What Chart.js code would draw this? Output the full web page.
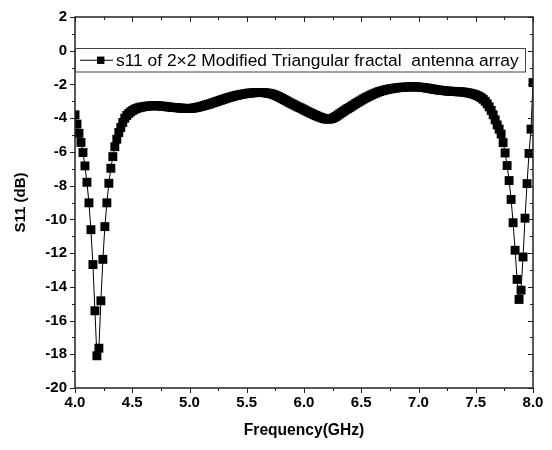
<!DOCTYPE html>
<html>
<head>
<meta charset="utf-8">
<script src="https://cdn.jsdelivr.net/npm/chart.js@4.4.0/dist/chart.umd.min.js"></script>
<style>
  html, body { margin: 0; padding: 0; background: #fff; }
</style>
</head>
<body>
<canvas id="chart" width="552" height="450"></canvas>
<script>
// S11 (dB), one value per sweep point, 4.0 -> 8.0 GHz
const s11 = [
  -3.80, -4.35, -4.90, -5.44, -6.04, -6.83, -7.80, -9.02, -10.61, -12.68,
  -15.42, -18.09, -17.64, -14.83, -12.37, -10.43, -9.02, -7.86, -6.97, -6.28,
  -5.69, -5.25, -4.85, -4.55, -4.25, -4.00, -3.84, -3.72, -3.62, -3.54,
  -3.47, -3.42, -3.38, -3.35, -3.33, -3.31, -3.29, -3.28, -3.27, -3.26,
  -3.26, -3.26, -3.27, -3.28, -3.29, -3.30, -3.32, -3.33, -3.35, -3.36,
  -3.37, -3.38, -3.39, -3.40, -3.41, -3.42, -3.42, -3.42, -3.42, -3.41,
  -3.39, -3.37, -3.34, -3.31, -3.28, -3.25, -3.21, -3.18, -3.14, -3.10,
  -3.06, -3.02, -2.98, -2.94, -2.90, -2.86, -2.82, -2.78, -2.75, -2.72,
  -2.68, -2.65, -2.63, -2.60, -2.58, -2.56, -2.54, -2.52, -2.51, -2.50,
  -2.49, -2.48, -2.48, -2.48, -2.48, -2.49, -2.50, -2.52, -2.54, -2.57,
  -2.61, -2.66, -2.71, -2.77, -2.83, -2.90, -2.96, -3.03, -3.09, -3.15,
  -3.21, -3.27, -3.33, -3.38, -3.44, -3.50, -3.56, -3.62, -3.68, -3.73,
  -3.79, -3.84, -3.89, -3.94, -3.98, -4.02, -4.05, -4.06, -4.05, -4.02,
  -3.97, -3.90, -3.82, -3.74, -3.66, -3.58, -3.50, -3.43, -3.36, -3.28,
  -3.21, -3.13, -3.06, -2.99, -2.92, -2.85, -2.79, -2.73, -2.67, -2.61,
  -2.56, -2.51, -2.46, -2.42, -2.38, -2.35, -2.32, -2.29, -2.27, -2.25,
  -2.23, -2.21, -2.20, -2.18, -2.17, -2.16, -2.16, -2.15, -2.15, -2.14,
  -2.14, -2.14, -2.15, -2.16, -2.17, -2.18, -2.20, -2.22, -2.24, -2.26,
  -2.28, -2.30, -2.32, -2.34, -2.35, -2.36, -2.38, -2.39, -2.40, -2.41,
  -2.41, -2.42, -2.43, -2.44, -2.44, -2.45, -2.47, -2.49, -2.51, -2.54,
  -2.57, -2.61, -2.66, -2.72, -2.79, -2.88, -3.00, -3.15, -3.33, -3.54,
  -3.80, -4.10, -4.40, -4.65, -4.94, -5.45, -6.06, -6.81, -7.70, -8.82,
  -10.20, -11.83, -13.56, -14.75, -14.20, -12.23, -9.93, -7.88, -6.09, -4.65,
  -1.89
];
const sweep = [4.0, 8.0];        // GHz, start / stop of the frequency sweep
const yRange = [-20, 2];
const legendText = "s11 of 2×2 Modified Triangular fractal  antenna array";

const FONT = "'Liberation Sans', Arial, Helvetica, sans-serif";

const df = (sweep[1] - sweep[0]) / (s11.length - 1);
const points = s11.map((v, i) => ({ x: sweep[0] + i * df, y: v }));

// frame + Origin style ticks (out on left/bottom, in on top/right)
const frameTicks = {
  id: "frameTicks",
  afterDraw(chart) {
    const { ctx, chartArea: a, scales } = chart;
    const x = scales.x, y = scales.y;
    ctx.save();
    ctx.strokeStyle = "#222";
    ctx.lineWidth = 1;
    const xs = x.ticks.map(t => t.value);
    const ys = y.ticks.map(t => t.value);
    const tick = (x1, y1, x2, y2) => {
      ctx.beginPath(); ctx.moveTo(x1, y1); ctx.lineTo(x2, y2); ctx.stroke();
    };
    xs.forEach((v, i) => {
      const px = Math.round(x.getPixelForValue(v)) + 0.5;
      tick(px, a.bottom, px, a.bottom + 5);
      tick(px, a.top, px, a.top + 5);
      if (i < xs.length - 1) {
        const pm = Math.round(x.getPixelForValue((v + xs[i + 1]) / 2)) + 0.5;
        tick(pm, a.bottom, pm, a.bottom + 3);
        tick(pm, a.top, pm, a.top + 3);
      }
    });
    ys.forEach((v, i) => {
      const py = Math.round(y.getPixelForValue(v)) + 0.5;
      tick(a.left, py, a.left - 5, py);
      tick(a.right, py, a.right - 5, py);
      if (i < ys.length - 1) {
        const pm = Math.round(y.getPixelForValue((v + ys[i + 1]) / 2)) + 0.5;
        tick(a.left, pm, a.left - 3, pm);
        tick(a.right, pm, a.right - 3, pm);
      }
    });
    ctx.lineWidth = 1.5;
    ctx.strokeRect(a.left, a.top, a.right - a.left, a.bottom - a.top);

    // legend box
    const bx = a.left, by = 48, bw = 450, bh = 23.5;
    ctx.fillStyle = "#fff";
    ctx.fillRect(bx, by, bw, bh);
    ctx.lineWidth = 1;
    ctx.strokeStyle = "#444";
    ctx.strokeRect(bx + 0.5, by + 0.5, bw, bh);
    const ly = by + bh / 2 + 0.5;
    ctx.strokeStyle = "#000";
    tick(bx + 5, ly, bx + 38, ly);
    ctx.fillStyle = "#000";
    ctx.fillRect(bx + 22, ly - 3.7, 7.4, 7.4);
    ctx.font = "17.4px " + FONT;
    ctx.textBaseline = "middle";
    ctx.textAlign = "left";
    ctx.fillText(legendText, bx + 41, ly + 0.5);
    ctx.restore();
  }
};

new Chart(document.getElementById("chart"), {
  type: "line",
  data: {
    datasets: [{
      label: legendText,
      data: points,
      borderColor: "#000",
      borderWidth: 1,
      pointStyle: "rect",
      pointRadius: 6.3,
      pointBorderWidth: 0,
      pointBackgroundColor: "#000",
      tension: 0,
    }],
  },
  options: {
    responsive: false,
    animation: false,
    layout: { padding: { top: 16, right: 19, left: 0, bottom: 0 } },
    plugins: { legend: { display: false }, tooltip: { enabled: false } },
    scales: {
      x: {
        type: "linear",
        min: sweep[0],
        max: sweep[1],
        afterFit: s => { s.height = 62; },
        grid: { display: false, drawTicks: false },
        border: { display: false },
        ticks: {
          stepSize: 0.5,
          padding: 6,
          color: "#000",
          font: { family: FONT, size: 15, weight: "bold" },
          callback: v => Number(v).toFixed(1),
        },
        title: {
          display: true,
          text: "Frequency(GHz)",
          color: "#000",
          font: { family: FONT, size: 15.6, weight: "bold" },
          padding: { top: 0, bottom: 10 },
        },
      },
      y: {
        min: yRange[0],
        max: yRange[1],
        afterFit: s => { s.width = 75; },
        grid: { display: false, drawTicks: false },
        border: { display: false },
        ticks: {
          stepSize: 2,
          padding: 8,
          color: "#000",
          font: { family: FONT, size: 15, weight: "bold" },
        },
        title: {
          display: true,
          text: "S11 (dB)",
          color: "#000",
          font: { family: FONT, size: 15, weight: "bold" },
          padding: { top: 12, bottom: 0 },
        },
      },
    },
  },
  plugins: [frameTicks],
});
</script>
</body>
</html>
